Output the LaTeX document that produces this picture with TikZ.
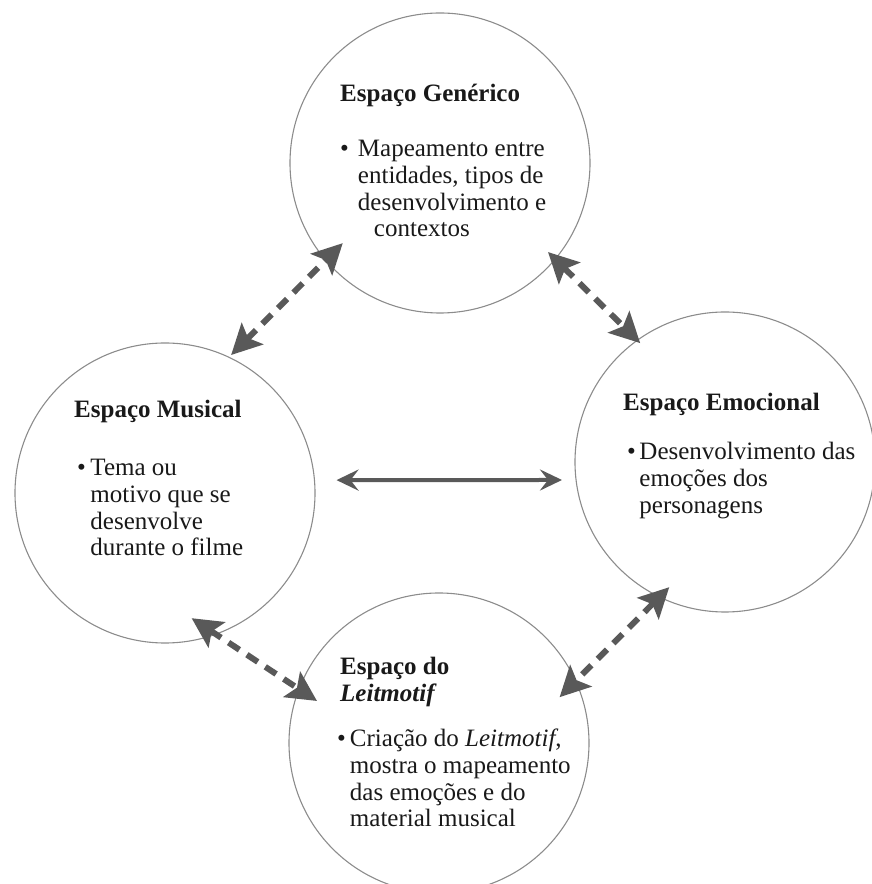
\documentclass[tikz,border=0pt]{standalone}
\usepackage{fontspec}
\setmainfont{Liberation Serif}
\usetikzlibrary{arrows.meta}
\newcommand{\espacoFont}[0]{\fontsize{25}{26.6}\selectfont}

\begin{document}
\begin{tikzpicture}[x=1pt, y=1pt]
  \tikzset{espaco/.style={circle, draw=black!45, line width=1.1pt, minimum size=300pt, inner sep=0pt},
    titulo/.style={font=\espacoFont\bfseries, inner sep=0pt, anchor=base west, text=black!90},
    corpo/.style={font=\espacoFont, inner sep=0pt, anchor=base west, text=black!90},
    liga/.style={draw=black!65, line width=6pt, dash pattern=on 13pt off 9pt,
      {Stealth[length=30pt,width=30pt,inset=6pt]}-{Stealth[length=30pt,width=30pt,inset=6pt]}},
    direto/.style={draw=black!65, line width=4pt,
      {Stealth[length=22pt,width=21pt,inset=8pt]}-{Stealth[length=22pt,width=21pt,inset=8pt]}}}
  \useasboundingbox (0,0) rectangle (871,884);
  % os quatro espacos
  \node[espaco] (gen) at (440,721) {};
  \node[espaco] (mus) at (165,391) {};
  \node[espaco] (emo) at (725,422) {};
  \node[espaco] (leit) at (439,141) {};
  % textos
  \node[titulo] (genT) at (340,782) {Espaço Genérico};
  \node[corpo] (genB) at (340,727) {\begin{tabular}[t]{@{}l@{\hspace{9pt}}l@{}}\textbullet & Mapeamento entre\\
    & entidades, tipos de\\ & desenvolvimento e\\ & \hspace*{16pt}contextos\end{tabular}};
  \node[titulo] (musT) at (74,466) {Espaço Musical};
  \node[corpo] (musB) at (77,408) {\begin{tabular}[t]{@{}l@{\hspace{4.5pt}}l@{}}\textbullet & Tema ou\\
    & motivo que se\\ & desenvolve\\ & durante o filme\end{tabular}};
  \node[titulo] (emoT) at (623,473) {Espaço Emocional};
  \node[corpo] (emoB) at (627,424) {\begin{tabular}[t]{@{}l@{\hspace{3.5pt}}l@{}}\textbullet & Desenvolvimento das\\
    & emoções dos\\ & personagens\end{tabular}};
  \node[titulo] (leitT) at (340,209) {\begin{tabular}[t]{@{}l@{}}Espaço do\\ \textit{Leitmotif}\end{tabular}};
  \node[corpo] (leitB) at (337,137) {\begin{tabular}[t]{@{}l@{\hspace{4pt}}l@{}}\textbullet & Criação do \textit{Leitmotif},\\
    & mostra o mapeamento\\ & das emoções e do\\ & material musical\end{tabular}};
  % ligacoes
  \draw[liga] ([shift={(64.4:153pt)}]mus.center) -- ([shift={(219.5:126pt)}]gen.center);
  \draw[liga] ([shift={(320.5:140pt)}]gen.center) -- ([shift={(125.5:146pt)}]emo.center);
  \draw[liga] ([shift={(282:128pt)}]mus.center) -- ([shift={(161:129pt)}]leit.center);
  \draw[liga] ([shift={(246:137pt)}]emo.center) -- ([shift={(20.8:129pt)}]leit.center);
  \draw[direto] ([shift={(4.3:172pt)}]mus.center) -- ([shift={(186.3:164pt)}]emo.center);
\end{tikzpicture}
\end{document}
